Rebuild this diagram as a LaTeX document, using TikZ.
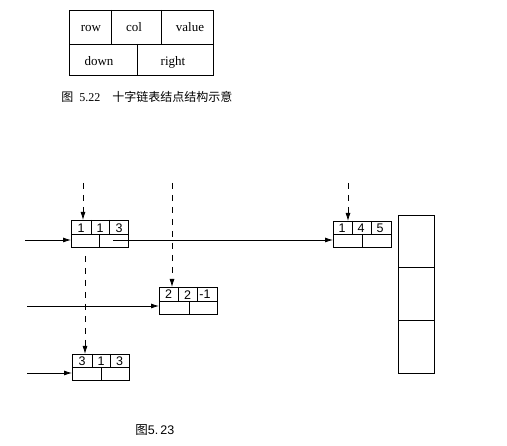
\documentclass[tikz,border=0pt]{standalone}
\usepackage{fontspec}
\setmainfont{Liberation Serif}
\setsansfont{Liberation Sans}
\newfontfamily\cjk{Noto Sans CJK SC}
\usetikzlibrary{arrows.meta,calc}
\begin{document}
\begin{tikzpicture}[x=1pt,y=-1pt,line width=0.8pt,
  box/.style={draw,anchor=north west,inner sep=0pt,outer sep=0pt},
  num/.style={font=\sffamily\fontsize{12.5}{12.5}\selectfont,inner sep=0pt,anchor=base},
  lab/.style={font=\fontsize{13}{13}\selectfont,inner sep=0pt,anchor=base},
  arr/.style={-{Latex[length=8pt,width=5pt]}},
  darr/.style={arr,dash pattern=on 6pt off 6pt},
]
\useasboundingbox[fill=white] (0,0) rectangle (507,446);

% structure of a node
\node[box,minimum width=144pt,minimum height=65pt] (st) at (69,10) {};
\draw (69,44) -- (213,44);
\draw (111,10) -- (111,44);
\draw (161,10) -- (161,44);
\draw (137,44) -- (137,75);
\node[lab] (lrow) at (91,31.5) {row};
\node[lab] (lcol) at (134,31.5) {col};
\node[lab] (lval) at (190,31.5) {value};
\node[lab] (ldown) at (99,66) {down};
\node[lab] (lright) at (173,66) {right};
\node[inner sep=0pt,anchor=west,font=\fontsize{12}{12}\selectfont] (cap1) at (61,97)
  {{\cjk 图}\ \ 5.22\quad {\cjk 十字链表结点结构示意}};

% node (1,1,3)
\node[box,minimum width=57pt,minimum height=27pt] (n1) at (71,220) {};
\draw (71,234) -- (128,234);
\draw (91,220) -- (91,234);
\draw (109,220) -- (109,234);
\draw (99,234) -- (99,247);
\node[num] (n1a) at (81,232.5) {1};
\node[num] (n1b) at (100,232.5) {1};
\node[num] (n1c) at (119,232.5) {3};

% node (2,2,-1)
\node[box,minimum width=58pt,minimum height=27pt] (n2) at (159,287) {};
\draw (159,301) -- (217,301);
\draw (178,287) -- (178,301);
\draw (197,287) -- (197,301);
\draw (189,301) -- (189,314);
\node[num] (n2a) at (168.5,299) {2};
\node[num] (n2b) at (187.5,299.5) {2};
\node[num] (n2c) at (205,298.5) {-1};

% node (3,1,3)
\node[box,minimum width=57pt,minimum height=26pt] (n3) at (72,354) {};
\draw (72,367) -- (129,367);
\draw (92,354) -- (92,367);
\draw (110,354) -- (110,367);
\draw (101,367) -- (101,380);
\node[num] (n3a) at (82,365.5) {3};
\node[num] (n3b) at (101,365.5) {1};
\node[num] (n3c) at (119.5,365.5) {3};

% node (1,4,5)
\node[box,minimum width=58pt,minimum height=26pt] (n4) at (333,221) {};
\draw (333,234) -- (391,234);
\draw (352,221) -- (352,234);
\draw (371,221) -- (371,234);
\draw (362,234) -- (362,247);
\node[num] (n4a) at (342,232.5) {1};
\node[num] (n4b) at (361,232.5) {4};
\node[num] (n4c) at (380,232.5) {5};

% column of three boxes
\node[box,minimum width=36pt,minimum height=52pt] (c1) at (398,215) {};
\node[box,minimum width=36pt,minimum height=53pt] (c2) at (398,267) {};
\node[box,minimum width=36pt,minimum height=53pt] (c3) at (398,320) {};

% row arrows
\coordinate (h1) at (25,240);
\coordinate (h2) at (27,306);
\coordinate (h3) at (27,373);
\coordinate (h4) at (113,240);
\draw[arr] (h1) -- (h1 -| n1.west);
\draw[arr] (h2) -- (h2 -| n2.west);
\draw[arr] (h3) -- (h3 -| n3.west);
\draw[arr] (h4) -- (h4 -| n4.west);

% column arrows
\coordinate (v1) at (83,183);
\coordinate (v2) at (172,183);
\coordinate (v3) at (85,256);
\coordinate (v4) at (348,183);
\draw[darr] (v1) -- (v1 |- n1.north);
\draw[darr] (v2) -- (v2 |- n2.north);
\draw[darr] (v3) -- (v3 |- n3.north);
\draw[darr] (v4) -- (v4 |- n4.north);

\node[inner sep=0pt,anchor=west,font=\sffamily\fontsize{12.5}{12.5}\selectfont] (cap2) at (135,430)
  {{\cjk 图}5.\,23};
\end{tikzpicture}
\end{document}
